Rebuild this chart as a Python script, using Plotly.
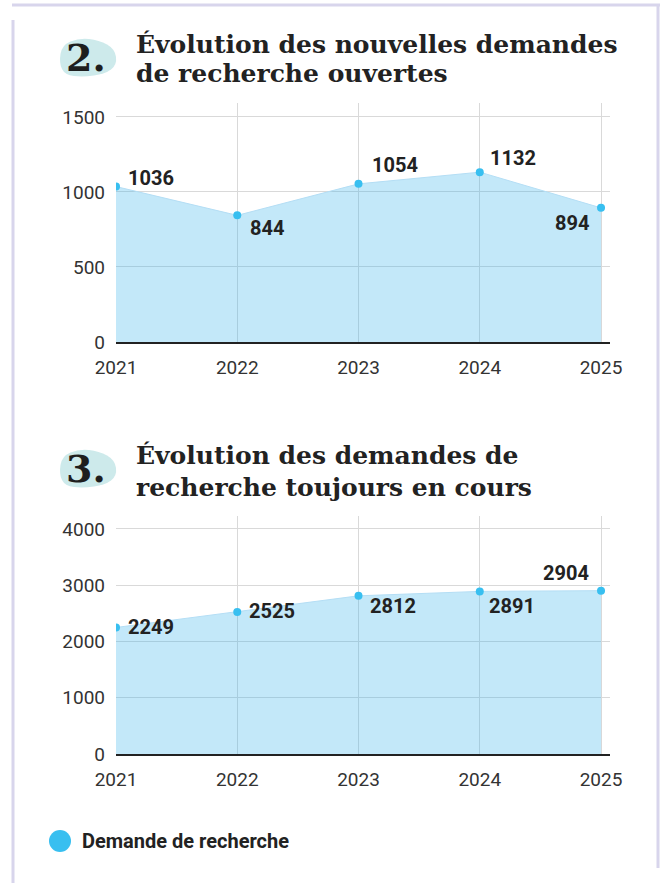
import plotly.graph_objects as go

W, H = 664, 883

years = [2021, 2022, 2023, 2024, 2025]
nouvelles = [1036, 844, 1054, 1132, 894]
en_cours = [2249, 2525, 2812, 2891, 2904]
y1_ticks = [0, 500, 1000, 1500]
y2_ticks = [0, 1000, 2000, 3000, 4000]
title1 = ["Évolution des nouvelles demandes", "de recherche ouvertes"]
title2 = ["Évolution des demandes de", "recherche toujours en cours"]
legend_label = "Demande de recherche"

# label offsets (px) per point: (xshift, yshift, anchor)
lab1 = [(10, 9, "left"), (11, -13, "left"), (11, 19, "left"), (8, 14, "left"), (-10, -15, "right")]
lab2 = [(10, 0, "left"), (10, 1, "left"), (9, -10, "left"), (7, -15, "left"), (-10, 18, "right")]

BLUE = "#38bff0"
FILL = "rgba(56,178,236,0.30)"
GRID = "#d9d9d9"
TXT = "#333333"

def px(x):
    return x / W

def py(y):
    return 1 - y / H

fig = go.Figure()

for vals, xa, ya in [(nouvelles, "x", "y"), (en_cours, "x2", "y2")]:
    fig.add_trace(go.Scatter(
        x=years, y=vals, xaxis=xa, yaxis=ya, mode="lines+markers",
        fill="tozeroy", fillcolor=FILL,
        line=dict(color="rgba(180,222,245,1)", width=1),
        marker=dict(color=BLUE, size=8),
        showlegend=False, hoverinfo="skip"))

annotations = []
for vals, offs, xr, yr in [(nouvelles, lab1, "x", "y"), (en_cours, lab2, "x2", "y2")]:
    for xv, yv, (dx, dy, anc) in zip(years, vals, offs):
        annotations.append(dict(
            x=xv, y=yv, xref=xr, yref=yr, text=str(yv), showarrow=False,
            xanchor=anc, yanchor="middle", xshift=dx, yshift=dy,
            font=dict(family="Roboto", size=20, color="#222222", weight="bold")))

# titles
for lines, ys in [(title1, (44, 73)), (title2, (455, 487))]:
    for t, yy in zip(lines, ys):
        annotations.append(dict(
            x=px(134), y=py(yy), xref="paper", yref="paper", text=t,
            showarrow=False, xanchor="left", yanchor="middle",
            font=dict(family="DejaVu Serif", size=25, color="#222222", weight="bold")))

# badge numbers
for num, cy in [("2.", 57), ("3.", 468)]:
    annotations.append(dict(
        x=px(86), y=py(cy), xref="paper", yref="paper", text=num,
        showarrow=False, xanchor="center", yanchor="middle",
        font=dict(family="DejaVu Serif", size=38, color="#1e1e1e", weight="bold")))

# legend text
annotations.append(dict(
    x=px(80), y=py(841), xref="paper", yref="paper", text=legend_label,
    showarrow=False, xanchor="left", yanchor="middle",
    font=dict(family="Roboto", size=20, color="#222222", weight="bold")))

shapes = []
# frame borders
FR = "#d8d5ec"
shapes.append(dict(type="line", xref="paper", yref="paper", x0=px(12), x1=px(660), y0=py(5), y1=py(5),
                   line=dict(color=FR, width=3)))
shapes.append(dict(type="line", xref="paper", yref="paper", x0=px(13), x1=px(13), y0=py(20), y1=py(883),
                   line=dict(color=FR, width=3)))
shapes.append(dict(type="line", xref="paper", yref="paper", x0=px(658), x1=px(658), y0=py(5), y1=py(868),
                   line=dict(color=FR, width=3)))

# badge blobs
def blob(cx, cy):
    pts = [(-28, 6), (-25, -12), (-8, -19), (12, -17), (28, -8), (30, 8), (18, 17), (-4, 20), (-22, 18)]
    d = "M {} {}".format(px(cx + (pts[0][0] + pts[-1][0]) / 2), py(cy + (pts[0][1] + pts[-1][1]) / 2))
    n = len(pts)
    for i in range(n):
        p0 = pts[i]
        p1 = pts[(i + 1) % n]
        mx, my = (p0[0] + p1[0]) / 2, (p0[1] + p1[1]) / 2
        d += " Q {} {} {} {}".format(px(cx + p0[0]), py(cy + p0[1]), px(cx + mx), py(cy + my))
    d += " Z"
    return dict(type="path", xref="paper", yref="paper", path=d,
                fillcolor="#cdeaeb", line=dict(width=0), layer="below")

shapes.append(blob(87, 57))
shapes.append(blob(87, 468))

# legend marker
shapes.append(dict(type="circle", xref="paper", yref="paper",
                   x0=px(49), x1=px(71), y0=py(830), y1=py(852),
                   fillcolor=BLUE, line=dict(width=0)))

axis_x = dict(range=[2021, 2025.074], tickvals=years, ticktext=[str(y) for y in years],
              showgrid=True, gridcolor=GRID, gridwidth=1, zeroline=False,
              showline=True, linecolor="#222222", linewidth=1.5,
              ticks="", ticklabelstandoff=7, automargin=False,
              tickfont=dict(family="Roboto", size=19, color=TXT), fixedrange=True)

axis_y = dict(showgrid=True, gridcolor=GRID, zeroline=False, showline=False, ticks="",
              ticklabelstandoff=10, automargin=False, fixedrange=True,
              tickfont=dict(family="Roboto", size=19, color=TXT))

fig.update_layout(
    width=W, height=H, margin=dict(l=0, r=0, t=0, b=0, autoexpand=False),
    paper_bgcolor="white", plot_bgcolor="white",
    xaxis=dict(axis_x, domain=[px(116), px(610)], anchor="y"),
    xaxis2=dict(axis_x, domain=[px(116), px(610)], anchor="y2"),
    yaxis=dict(axis_y, domain=[py(342), py(103)], range=[0, 1593], tickvals=y1_ticks, anchor="x"),
    yaxis2=dict(axis_y, domain=[py(754), py(516)], range=[0, 4231], tickvals=y2_ticks, anchor="x2"),
    annotations=annotations, shapes=shapes,
)

fig.write_html(
    "out.html",
    config={"displayModeBar": False},
    post_script="document.body.style.margin='0';document.body.style.overflow='hidden';"
                "document.documentElement.style.overflow='hidden';",
)
